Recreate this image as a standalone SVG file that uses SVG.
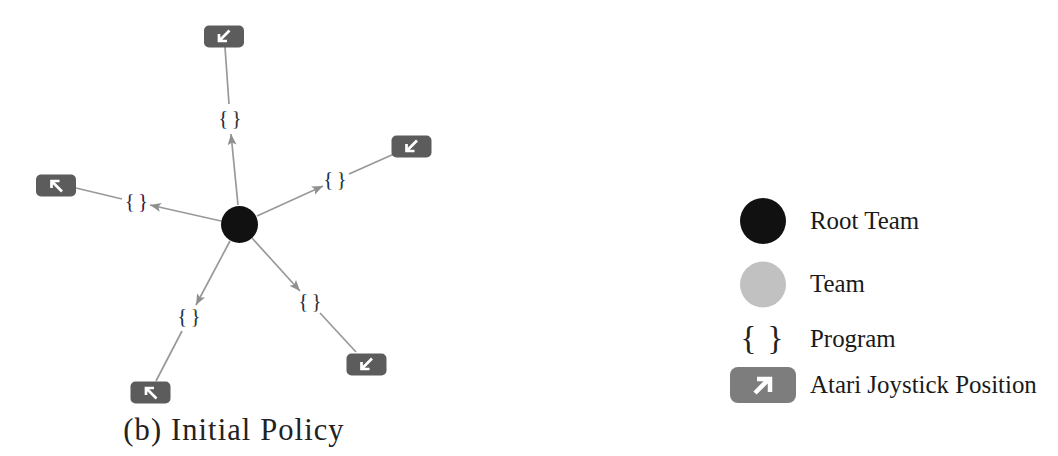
<svg xmlns="http://www.w3.org/2000/svg" width="1058" height="456" viewBox="0 0 1058 456">
<style>
.e{stroke:#999;stroke-width:1.7;fill:none}
.a{marker-end:url(#h)}
.b{fill:#5c5c5c}
.g{stroke:#fff;stroke-width:2.7;fill:none}
.p{font-family:"Liberation Serif",serif;font-size:21px;text-anchor:middle;word-spacing:-2px}
.t{font-family:"Liberation Serif",serif;font-size:24.900px;fill:#1a1a1a}
</style>
<defs>
<marker id="h" markerUnits="userSpaceOnUse" markerWidth="12" markerHeight="10" refX="11" refY="4.500" orient="auto"><path d="M0 0L11 4.500L0 9L2.500 4.500Z" fill="#8f8f8f"/></marker>
<linearGradient id="c1"><stop offset="0" stop-color="#c8781e"/><stop offset=".18" stop-color="#0e1c38"/><stop offset=".34" stop-color="#2a78c8"/><stop offset=".66" stop-color="#c8781e"/><stop offset=".82" stop-color="#0e1c38"/><stop offset="1" stop-color="#2a78c8"/></linearGradient>
<linearGradient id="c2"><stop offset="0" stop-color="#8a2a70"/><stop offset=".18" stop-color="#2a1030"/><stop offset=".34" stop-color="#6a7ab0"/><stop offset=".66" stop-color="#8a2a70"/><stop offset=".82" stop-color="#2a1030"/><stop offset="1" stop-color="#6a7ab0"/></linearGradient>
<g id="sw"><path class="g" d="M6 -6L-4.500 4.500M-4.500 -2.500V4.500H3.500"/></g>
<g id="nw"><path class="g" d="M6 6L-4.500 -4.500M-4.500 2.500V-4.500H3.500"/></g>
</defs>
<rect width="1058" height="456" fill="#fff"/>
<g id="connectors">
<line class="e a" x1="238" y1="205" x2="231" y2="134"/>
<line class="e" x1="229" y1="104" x2="225" y2="47"/>
<line class="e a" x1="257" y1="216" x2="323" y2="186"/>
<line class="e" x1="349" y1="174" x2="394" y2="154"/>
<line class="e a" x1="221" y1="221" x2="150" y2="205"/>
<line class="e" x1="122" y1="199" x2="76" y2="188"/>
<line class="e a" x1="230" y1="241" x2="196" y2="305"/>
<line class="e" x1="182" y1="331" x2="156" y2="381"/>
<line class="e a" x1="252" y1="238" x2="300" y2="291"/>
<line class="e" x1="320" y1="313" x2="356" y2="352"/>
</g>
<g id="root"><circle cx="239.500" cy="224.500" r="18.500" fill="#111"/></g>
<g id="prog-top"><text class="p" x="230" y="125" fill="url(#c1)">{ }</text></g>
<g id="prog-right"><text class="p" x="335" y="186" fill="url(#c1)">{ }</text></g>
<g id="prog-left"><text class="p" x="136.500" y="208" fill="url(#c2)">{ }</text></g>
<g id="prog-bl"><text class="p" x="189" y="323" fill="url(#c1)">{ }</text></g>
<g id="prog-br"><text class="p" x="310" y="308" fill="url(#c1)">{ }</text></g>
<g id="act-top"><rect class="b" x="204" y="25.500" width="40" height="22" rx="5"/><use href="#sw" x="223.500" y="36.500"/></g>
<g id="act-right"><rect class="b" x="391.500" y="135.500" width="40" height="22" rx="5"/><use href="#sw" x="411" y="146.500"/></g>
<g id="act-left"><rect class="b" x="36" y="174.500" width="40" height="22" rx="5"/><use href="#nw" x="56" y="185.500"/></g>
<g id="act-bl"><rect class="b" x="130.500" y="381.500" width="40" height="22" rx="5"/><use href="#nw" x="150.500" y="392.500"/></g>
<g id="act-br"><rect class="b" x="346.500" y="353.500" width="40" height="22" rx="5"/><use href="#sw" x="366" y="364.500"/></g>
<text id="caption" x="234" y="439.500" text-anchor="middle" style="font-family:'Liberation Serif',serif;font-size:30.500px;letter-spacing:1.100px" fill="#222">(b) Initial Policy</text>
<g id="legend-root"><circle cx="763" cy="221" r="23" fill="#111"/><text class="t" x="810" y="229">Root Team</text></g>
<g id="legend-team"><circle cx="763" cy="284.500" r="23" fill="#c1c1c1"/><text class="t" x="810" y="292">Team</text></g>
<g id="legend-program"><text x="762" y="349" text-anchor="middle" style="font-family:'Liberation Serif',serif;font-size:33px;word-spacing:3px" fill="#222">{ }</text><text class="t" x="810" y="347">Program</text></g>
<g id="legend-action"><rect x="730" y="367" width="66" height="36" rx="8" fill="#7d7d7d"/><path d="M755 393L769 379M757 379H770V392" stroke="#fff" stroke-width="4.500" fill="none"/><text class="t" x="810" y="393">Atari Joystick Position</text></g>
</svg>
